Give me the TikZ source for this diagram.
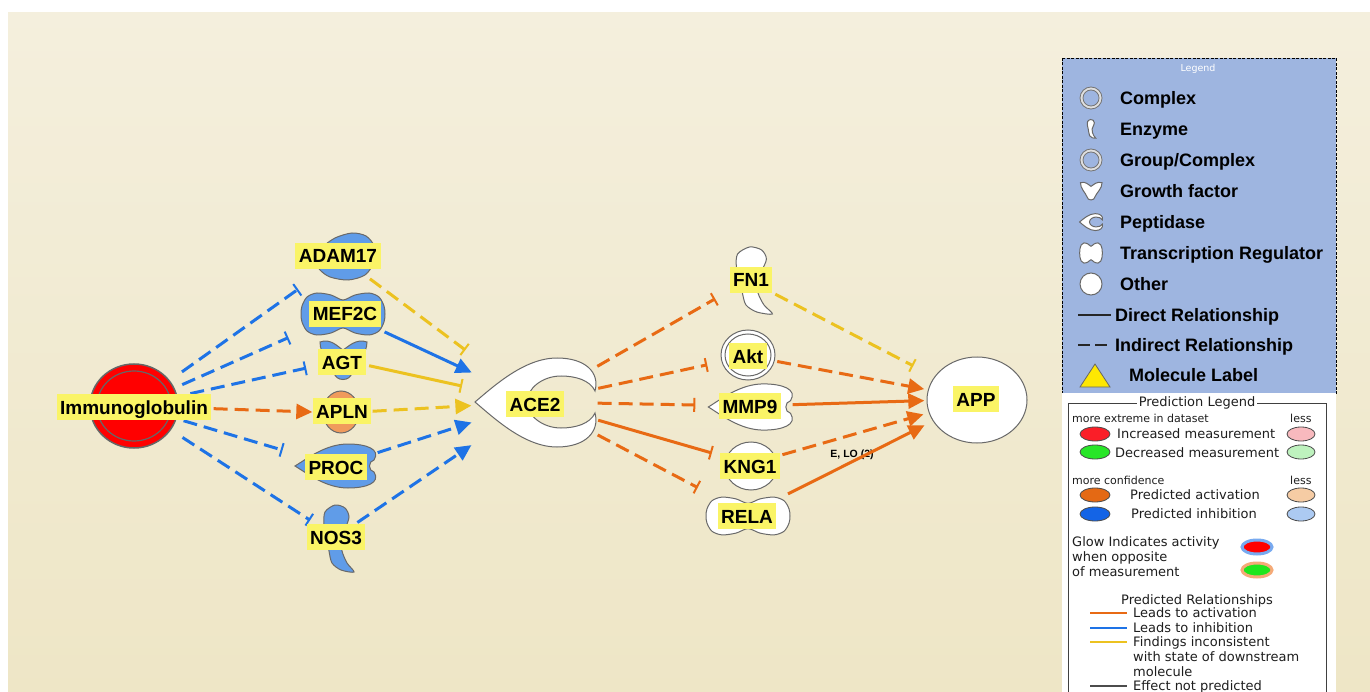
\documentclass[tikz,border=0pt]{standalone}
\usepackage{fontspec}
\setmainfont{Liberation Sans}
\newfontfamily\legfont{DejaVu Sans}
\usepackage{xcolor}
\usepackage{tikz}
\usetikzlibrary{arrows.meta,backgrounds}
\pgfdeclarelayer{edgelayer}
\pgfdeclarelayer{nodelayer}
\pgfsetlayers{background,edgelayer,nodelayer,main}
\definecolor{pblue}{RGB}{30,115,230}
\definecolor{porange}{RGB}{232,106,20}
\definecolor{pyellow}{RGB}{236,194,32}
\definecolor{shapeblue}{RGB}{96,156,232}
\definecolor{aplnorange}{RGB}{240,155,92}
\definecolor{molgray}{RGB}{105,105,105}
\definecolor{lblyellow}{RGB}{250,244,102}
\definecolor{legblue}{RGB}{158,181,224}
\definecolor{bgtop}{RGB}{244,239,221}
\definecolor{bgmid}{RGB}{237,227,190}
\definecolor{bgbot}{RGB}{238,230,198}
\definecolor{predgray}{RGB}{30,30,30}
\tikzstyle{none}=[inner sep=0mm]
\tikzstyle{lbl}=[fill=lblyellow,inner xsep=3.5pt,inner ysep=0pt,minimum height=26pt,text height=14pt,text depth=0pt,font=\bfseries\fontsize{19}{21}\selectfont]
\tikzstyle{molline}=[draw=molgray,line width=1pt]
\tikzstyle{act}=[line width=3pt,-{Triangle[length=16pt,width=15pt]}]
\tikzstyle{inh}=[line width=3pt,-{Bar[width=14pt,line width=2pt]}]
\tikzstyle{ind}=[dash pattern=on 14pt off 7pt]
\tikzstyle{keytxt}=[anchor=west,inner sep=0pt,text height=13pt,text depth=0pt,font=\bfseries\fontsize{18}{20}\selectfont]
\tikzstyle{predtxt}=[anchor=west,inner sep=0pt,text=predgray,text height=9.5pt,text depth=0pt,font=\legfont\fontsize{13}{15}\selectfont]
\tikzstyle{smalltxt}=[predtxt,text height=8pt,font=\legfont\fontsize{11}{13}\selectfont]
\tikzstyle{keydot}=[draw=black!70,line width=0.8pt]
\tikzstyle{ring}=[draw=gray!90!black,fill=white!75!gray,even odd rule,line width=0.8pt]
\tikzset{
	enzyme/.pic={\path[molline,pic actions] plot[smooth cycle] coordinates {(-2,-34) (8,-31) (12,-22) (8,-10) (4,0) (5,12) (10,24) (17,33) (4,31) (-5,24) (-8,12) (-10,0) (-13,-14) (-12,-27)};},
	treg/.pic={\path[molline,pic actions] plot[smooth cycle] coordinates {(0,-14) (12,-19) (26,-21) (36,-17) (41,-8) (42,0) (41,8) (36,17) (26,21) (12,19) (0,14) (-12,19) (-26,21) (-36,17) (-41,8) (-42,0) (-41,-8) (-36,-17) (-26,-21) (-12,-19)};},
	gfac/.pic={\path[molline,pic actions] (-23,-18) .. controls (-12,-22) and (-5,-13) .. (0,-10) .. controls (5,-13) and (13,-22) .. (24,-18) .. controls (24,-5) and (12,4) .. (9,12) .. controls (8,22) and (-8,22) .. (-9,12) .. controls (-12,4) and (-23,-5) .. (-23,-18) -- cycle;},
	pept/.pic={\path[molline,pic actions] (38,-6) .. controls (45,-17) and (30,-22) .. (12,-22) .. controls (-10,-22) and (-28,-8) .. (-41,0) .. controls (-28,8) and (-10,22) .. (12,22) .. controls (30,22) and (45,17) .. (38,6) .. controls (32,5) and (32,-5) .. (38,-6) -- cycle;},
	bigpept/.pic={\path[molline,pic actions] (60,-11) .. controls (65,-30) and (50,-44) .. (22,-44) .. controls (-10,-44) and (-40,-17) .. (-60,0) .. controls (-40,17) and (-10,45) .. (22,45) .. controls (50,45) and (65,30) .. (60,11) .. controls (55,22) and (40,26) .. (26,26) .. controls (8,26) and (-8,14) .. (-8,0) .. controls (-8,-14) and (8,-26) .. (26,-26) .. controls (40,-26) and (55,-22) .. (60,-11) -- cycle;}
}

\begin{document}
\begin{tikzpicture}[x=1pt,y=-1pt]
	\useasboundingbox (0,0) rectangle (1370,692);
	\begin{pgfonlayer}{background}
		\fill[white] (0,0) rectangle (1370,692);
		\shade[top color=bgtop,middle color=bgmid,bottom color=bgbot] (8,13) rectangle (1370,692);
	\end{pgfonlayer}

	% molecule centres
	\node [style=none] (imm) at (134,406) {};
	\node [style=none] (adam) at (342,258) {};
	\node [style=none] (mef) at (344,313) {};
	\node [style=none] (agt) at (343,360) {};
	\node [style=none] (apln) at (342,413) {};
	\node [style=none] (proc) at (336,466) {};
	\node [style=none] (nos) at (336,537) {};
	\node [style=none] (ace) at (535,402) {};
	\node [style=none] (fn) at (748,280) {};
	\node [style=none] (akt) at (748,356) {};
	\node [style=none] (mmp) at (750,406) {};
	\node [style=none] (kng) at (750,464) {};
	\node [style=none] (rela) at (748,514) {};
	\node [style=none] (app) at (977,399) {};

	\begin{pgfonlayer}{nodelayer}
		% shapes
		\path[draw=gray!80!black,line width=1.5pt,fill=red] (134,406) ellipse [x radius=44pt,y radius=42pt];
		\draw[gray!80!black,line width=1.2pt] (134,406) ellipse [x radius=37pt,y radius=35pt];
		\path[molline,fill=shapeblue] plot[smooth cycle] coordinates {(316,262) (322,248) (335,238) (352,233) (366,236) (374,246) (374,262) (365,275) (348,280) (330,277) (320,270)};
		\pic[fill=shapeblue] at (343,314) {treg};
		\pic[fill=shapeblue] at (343,360) {gfac};
		\path[molline,fill=aplnorange] (341,412) ellipse [x radius=18pt,y radius=21pt];
		\pic[fill=shapeblue] at (336,466) {pept};
		\pic[fill=shapeblue] at (337,539) {enzyme};
		\pic[fill=white] at (535,402) {bigpept};
		\pic[fill=white,xscale=1.2] at (752,281) {enzyme};
		\path[molline,fill=white] (748,355) ellipse [x radius=27pt,y radius=25pt];
		\path[molline] (748,355) ellipse [x radius=23pt,y radius=21pt];
		\pic[fill=white,xscale=1.04,yscale=1.05] at (751,407) {pept};
		\path[molline,fill=white] (751,466) ellipse [x radius=26pt,y radius=24pt];
		\pic[fill=white,yscale=0.9] at (748,516) {treg};
		\path[molline,fill=white] (977,400) ellipse [x radius=50pt,y radius=43pt];
		% labels
		\node [lbl] (immL) at (134,407) {Immunoglobulin};
		\node [lbl] (adamL) at (338,256) {ADAM17};
		\node [lbl] (mefL) at (345,314) {MEF2C};
		\node [lbl] (agtL) at (342,362) {AGT};
		\node [lbl] (aplnL) at (342,411) {APLN};
		\node [lbl] (procL) at (336,467) {PROC};
		\node [lbl] (nosL) at (336,537) {NOS3};
		\node [lbl] (aceL) at (535,404) {ACE2};
		\node [lbl] (fnL) at (751,280) {FN1};
		\node [lbl] (aktL) at (748,356) {Akt};
		\node [lbl] (mmpL) at (750,406) {MMP9};
		\node [lbl] (kngL) at (750,466) {KNG1};
		\node [lbl] (relaL) at (747,516) {RELA};
		\node [lbl] (appL) at (976,399) {APP};
	\end{pgfonlayer}

	\begin{pgfonlayer}{edgelayer}
		\node [inner sep=0pt,font=\bfseries\fontsize{10.5}{12}\selectfont] (elo) at (852,455) {E, LO (2)};
		% immunoglobulin out
		\draw [inh,ind,pblue,shorten <=58pt,shorten >=53pt] (imm) -- (adam);
		\draw [inh,ind,pblue,shorten <=52pt,shorten >=60pt] (imm) -- (mef);
		\draw [inh,ind,pblue,shorten <=57pt,shorten >=37pt] (imm) -- (agt);
		\draw [act,ind,porange,shorten <=79pt,shorten >=29pt] (imm) -- (apln);
		\draw [inh,ind,pblue,shorten <=51pt,shorten >=55pt] (imm) -- (proc);
		\draw [inh,ind,pblue,shorten <=57pt,shorten >=30pt] (imm) -- (nos);
		% into ACE2
		\draw [inh,ind,pyellow,shorten <=34pt,shorten >=86pt] (adam) -- (ace);
		\draw [act,pblue,shorten <=44pt,shorten >=69pt] (mef) -- (ace);
		\draw [inh,pyellow,shorten <=26pt,shorten >=74pt] (agt) -- (ace);
		\draw [act,ind,pyellow,shorten <=30pt,shorten >=63pt] (apln) -- (ace);
		\draw [act,ind,pblue,shorten <=43pt,shorten >=66pt] (proc) -- (ace);
		\draw [act,ind,pblue,shorten <=25pt,shorten >=76pt] (nos) -- (ace);
		% ACE2 out
		\draw [inh,ind,porange,shorten <=71pt,shorten >=37pt] (ace) -- (fn);
		\draw [inh,ind,porange,shorten <=64pt,shorten >=41pt] (ace) -- (akt);
		\draw [inh,ind,porange,shorten <=62pt,shorten >=54pt] (ace) -- (mmp);
		\draw [inh,porange,shorten <=65pt,shorten >=39pt] (ace) -- (kng);
		\draw [inh,ind,porange,shorten <=70pt,shorten >=56pt] (ace) -- (rela);
		% into APP
		\draw [inh,ind,pyellow,shorten <=30pt,shorten >=71pt] (fn) -- (app);
		\draw [act,ind,porange,shorten <=29pt,shorten >=53pt] (akt) -- (app);
		\draw [act,porange,shorten <=42pt,shorten >=52pt] (mmp) -- (app);
		\draw [act,ind,porange,shorten <=33pt,shorten >=55pt] (kng) -- (app);
		\draw [act,porange,shorten <=44pt,shorten >=58pt] (rela) -- (app);
	\end{pgfonlayer}

	% legend
	\path[fill=legblue,draw=black,line width=0.8pt,dash pattern=on 3pt off 1.5pt] (1062,58) rectangle (1336,393);
	\node [inner sep=0pt,text=white,font=\legfont\fontsize{9.5}{11}\selectfont] (legT) at (1198,69) {Legend};
	\path[ring] (1091,98) circle (11pt) (1091,98) circle (8pt);
	\pic[fill=white,scale=0.28] at (1091,129) {enzyme};
	\path[ring] (1091,160) circle (11pt) (1091,160) circle (8pt);
	\pic[fill=white,scale=0.46] at (1091,191) {gfac};
	\pic[fill=white,scale=0.19] at (1091,222) {bigpept};
	\pic[fill=white,xscale=0.27,yscale=0.48] at (1091,253) {treg};
	\path[molline,fill=white] (1091,284) circle (11pt);
	\node [keytxt] (k1) at (1120,98) {Complex};
	\node [keytxt] (k2) at (1120,129) {Enzyme};
	\node [keytxt] (k3) at (1120,160) {Group/Complex};
	\node [keytxt] (k4) at (1120,191) {Growth factor};
	\node [keytxt] (k5) at (1120,222) {Peptidase};
	\node [keytxt] (k6) at (1120,253) {Transcription Regulator};
	\node [keytxt] (k7) at (1120,284) {Other};
	\node [keytxt] (k8) at (1115,315) {Direct Relationship};
	\node [keytxt] (k9) at (1115,345) {Indirect Relationship};
	\node [keytxt] (k10) at (1129,375) {Molecule Label};
	\coordinate (d1) at (1078,315);
	\coordinate (i1) at (1078,345);
	\draw[line width=2.5pt,black!85] (d1) -- ([xshift=-4pt]k8.west);
	\draw[line width=2.5pt,black!85,dash pattern=on 12pt off 5pt] (i1) -- ([xshift=-4pt]k9.west);
	\path[fill=yellow!90!orange,draw=gray!80!black,line width=0.8pt] (1080,387) -- (1110,387) -- (1095,364) -- cycle;

	% prediction legend
	\fill[white] (1062,393) rectangle (1336,692);
	\draw[black!75,line width=1pt] (1068,700) -- (1068,403) -- (1326,403) -- (1326,700);
	\node [fill=white,inner xsep=2pt,inner ysep=1pt,text=predgray,font=\legfont\fontsize{13}{15}\selectfont] (predT) at (1197,403) {Prediction Legend};
	\node [smalltxt] (p1) at (1072,418) {more extreme in dataset};
	\node [smalltxt] (p2) at (1290,418) {less};
	\path[keydot,fill={rgb,255:red,250;green,30;blue,40}] (1095,434) ellipse [x radius=15pt,y radius=7pt];
	\node [predtxt] (p3) at (1117,434) {Increased measurement};
	\path[keydot,fill={rgb,255:red,248;green,185;blue,190}] (1301,434) ellipse [x radius=14pt,y radius=7pt];
	\path[keydot,fill={rgb,255:red,40;green,230;blue,40}] (1095,452) ellipse [x radius=15pt,y radius=7pt];
	\node [predtxt] (p4) at (1115,453) {Decreased measurement};
	\path[keydot,fill={rgb,255:red,190;green,242;blue,190}] (1301,452) ellipse [x radius=14pt,y radius=7pt];
	\node [smalltxt] (p5) at (1072,480) {more confidence};
	\node [smalltxt] (p6) at (1290,480) {less};
	\path[keydot,fill={rgb,255:red,228;green,105;blue,20}] (1095,495) ellipse [x radius=15pt,y radius=7pt];
	\node [predtxt] (p7) at (1130,495) {Predicted activation};
	\path[keydot,fill={rgb,255:red,246;green,204;blue,164}] (1301,495) ellipse [x radius=14pt,y radius=7pt];
	\path[keydot,fill={rgb,255:red,20;green,100;blue,230}] (1095,514) ellipse [x radius=15pt,y radius=7pt];
	\node [predtxt] (p8) at (1131,514) {Predicted inhibition};
	\path[keydot,fill={rgb,255:red,172;green,202;blue,242}] (1301,514) ellipse [x radius=14pt,y radius=7pt];
	\node [predtxt] (p9) at (1072,542) {Glow Indicates activity};
	\node [predtxt] (p10) at (1072,557) {when opposite};
	\node [predtxt] (p11) at (1072,572) {of measurement};
	\path[draw={rgb,255:red,120;green,170;blue,240},line width=3pt,fill=red] (1257,547) ellipse [x radius=15pt,y radius=7pt];
	\path[draw={rgb,255:red,245;green,170;blue,120},line width=3pt,fill={rgb,255:red,30;green,230;blue,30}] (1257,570) ellipse [x radius=15pt,y radius=7pt];
	\node [predtxt,anchor=center] (p12) at (1197,600) {Predicted Relationships};
	\node [predtxt] (r1) at (1133,613) {Leads to activation};
	\node [predtxt] (r2) at (1133,628) {Leads to inhibition};
	\node [predtxt] (r3) at (1133,642) {Findings inconsistent};
	\node [predtxt] (r4) at (1133,657) {with state of downstream};
	\node [predtxt] (r5) at (1133,672) {molecule};
	\node [predtxt] (r6) at (1133,686) {Effect not predicted};
	\coordinate (l1) at (1090,613);
	\coordinate (l2) at (1090,628);
	\coordinate (l3) at (1090,642);
	\coordinate (l4) at (1090,686);
	\draw[line width=2.5pt,porange] (l1) -- ([xshift=-6pt]r1.west);
	\draw[line width=2.5pt,pblue] (l2) -- ([xshift=-6pt]r2.west);
	\draw[line width=2.5pt,pyellow] (l3) -- ([xshift=-6pt]r3.west);
	\draw[line width=2.5pt,black!70] (l4) -- ([xshift=-6pt]r6.west);
\end{tikzpicture}
\end{document}
